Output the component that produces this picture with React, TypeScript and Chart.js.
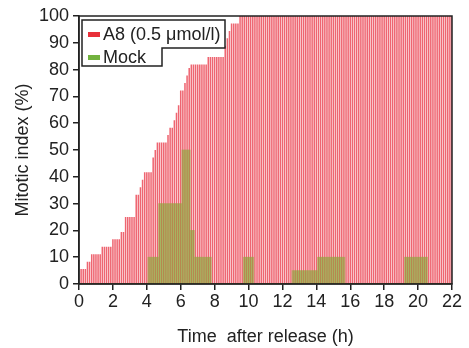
import React, { useEffect, useRef } from "react";
import { Chart, registerables } from "chart.js";

Chart.register(...registerables);

// Sampling interval of the time-lapse frames (hours)
const FRAME_H = 0.125;

// A8 (0.5 µmol/l) mitotic index (%), one row per hour, frames 1..176
const A8_VALUES = [
  5.6, 5.6, 5.6, 8.3, 8.3, 11.1, 11.1, 11.1,
  11.1, 11.1, 13.9, 13.9, 13.9, 13.9, 13.9, 16.7,
  16.7, 16.7, 16.7, 19.4, 19.4, 25, 25, 25,
  25, 25, 33.3, 33.3, 36.1, 38.9, 41.7, 41.7,
  41.7, 41.7, 47.2, 50, 52.8, 52.8, 52.8, 52.8,
  52.8, 55.6, 58.3, 58.3, 61.1, 63.9, 66.7, 72.2,
  72.2, 75, 77.8, 80.6, 81.9, 81.9, 81.9, 81.9,
  81.9, 81.9, 81.9, 81.9, 84.7, 84.7, 84.7, 84.7,
  84.7, 84.7, 84.7, 84.7, 88.9, 91.7, 94.4, 97.2,
  97.2, 97.2, 97.2, 100, 100, 100, 100, 100,
  100, 100, 100, 100, 100, 100, 100, 100,
  100, 100, 100, 100, 100, 100, 100, 100,
  100, 100, 100, 100, 100, 100, 100, 100,
  100, 100, 100, 100, 100, 100, 100, 100,
  100, 100, 100, 100, 100, 100, 100, 100,
  100, 100, 100, 100, 100, 100, 100, 100,
  100, 100, 100, 100, 100, 100, 100, 100,
  100, 100, 100, 100, 100, 100, 100, 100,
  100, 100, 100, 100, 100, 100, 100, 100,
  100, 100, 100, 100, 100, 100, 100, 100,
  100, 100, 100, 100, 100, 100, 100, 100,
  100, 100, 100, 100, 100, 100, 100, 100,
];

// Mock mitotic index (%), same frames
const MOCK_VALUES = [
  0, 0, 0, 0, 0, 0, 0, 0,
  0, 0, 0, 0, 0, 0, 0, 0,
  0, 0, 0, 0, 0, 0, 0, 0,
  0, 0, 0, 0, 0, 0, 0, 0,
  10, 10, 10, 10, 10, 30, 30, 30,
  30, 30, 30, 30, 30, 30, 30, 30,
  50, 50, 50, 50, 20, 20, 10, 10,
  10, 10, 10, 10, 10, 10, 0, 0,
  0, 0, 0, 0, 0, 0, 0, 0,
  0, 0, 0, 0, 0, 10, 10, 10,
  10, 10, 0, 0, 0, 0, 0, 0,
  0, 0, 0, 0, 0, 0, 0, 0,
  0, 0, 0, 0, 5, 5, 5, 5,
  5, 5, 5, 5, 5, 5, 5, 5,
  10, 10, 10, 10, 10, 10, 10, 10,
  10, 10, 10, 10, 10, 0, 0, 0,
  0, 0, 0, 0, 0, 0, 0, 0,
  0, 0, 0, 0, 0, 0, 0, 0,
  0, 0, 0, 0, 0, 0, 0, 0,
  0, 10, 10, 10, 10, 10, 10, 10,
  10, 10, 10, 10, 0, 0, 0, 0,
  0, 0, 0, 0, 0, 0, 0, 0,
];

const SERIES_LABELS = ["A8 (0.5 \u03bcmol/l)", "Mock"];
const X_TITLE = "Time  after release (h)";
const Y_TITLE = "Mitotic index (%)";

const FONT = "'Liberation Sans', Arial, sans-serif";
const INK = "#222222";
const RED = "rgba(232, 50, 66, 0.75)";
const GREEN = "rgba(125, 172, 45, 0.5)";

const toPoints = (vals: number[]) =>
  vals.map((v, i) => ({ x: (i + 1) * FRAME_H, y: v }));

const framePlugin = {
  id: "frameAndLegend",
  afterDatasetsDraw(chart: any) {
    const { ctx, chartArea: a } = chart;
    ctx.save();
    ctx.strokeStyle = INK;
    ctx.lineWidth = 1.5;
    ctx.strokeRect(a.left, a.top, a.right - a.left, a.bottom - a.top);

    // L-shaped legend box
    const L = a.left + 3;
    const T = a.top + 4;
    const R1 = L + 143;
    const R2 = L + 80;
    const M = T + 28;
    const B = T + 46;
    ctx.beginPath();
    ctx.moveTo(L, T);
    ctx.lineTo(R1, T);
    ctx.lineTo(R1, M);
    ctx.lineTo(R2, M);
    ctx.lineTo(R2, B);
    ctx.lineTo(L, B);
    ctx.closePath();
    ctx.fillStyle = "#ffffff";
    ctx.fill();
    ctx.lineWidth = 1.5;
    ctx.stroke();

    ctx.fillStyle = "#e8303a";
    ctx.fillRect(L + 6, T + 12, 12, 5);
    ctx.fillStyle = "#72b23e";
    ctx.fillRect(L + 6, T + 35, 12, 5);

    ctx.fillStyle = INK;
    ctx.font = `18px ${FONT}`;
    ctx.textBaseline = "middle";
    ctx.textAlign = "left";
    ctx.fillText(SERIES_LABELS[0], L + 21, T + 15);
    ctx.fillText(SERIES_LABELS[1], L + 21, T + 38);
    ctx.restore();
  },
};

export default function App() {
  const ref = useRef<HTMLCanvasElement | null>(null);

  useEffect(() => {
    if (!ref.current) return;
    const chart = new Chart(ref.current, {
      type: "bar",
      data: {
        datasets: [
          {
            label: SERIES_LABELS[0],
            data: toPoints(A8_VALUES),
            backgroundColor: RED,
            grouped: false,
            order: 1,
            barPercentage: 0.72,
            categoryPercentage: 1,
          } as any,
          {
            label: SERIES_LABELS[1],
            data: toPoints(MOCK_VALUES),
            backgroundColor: GREEN,
            grouped: false,
            order: 0,
            barPercentage: 1,
            categoryPercentage: 1,
          } as any,
        ],
      },
      options: {
        responsive: false,
        animation: false,
        layout: { padding: { top: 16, right: 17, left: 0, bottom: 0 } },
        plugins: { legend: { display: false }, tooltip: { enabled: false } },
        scales: {
          x: {
            type: "linear",
            min: 0,
            max: 22,
            offset: false,
            grid: {
              display: true,
              drawOnChartArea: false,
              drawTicks: true,
              tickLength: 6,
              color: INK,
              lineWidth: 1.5,
              offset: false,
            },
            border: { display: true, color: INK, width: 1.5 },
            ticks: {
              stepSize: 2,
              color: INK,
              font: { size: 18, family: FONT },
              padding: 1,
              maxRotation: 0,
              autoSkip: false,
            },
            title: {
              display: true,
              text: X_TITLE,
              color: INK,
              font: { size: 18, family: FONT },
              padding: { top: 0, bottom: 0 },
            },
            afterFit: (s: any) => {
              s.height = 64;
            },
          } as any,
          y: {
            min: 0,
            max: 100,
            grid: {
              display: true,
              drawOnChartArea: false,
              drawTicks: true,
              tickLength: 6,
              color: INK,
              lineWidth: 1.5,
            },
            border: { display: true, color: INK, width: 1.5 },
            ticks: {
              stepSize: 10,
              color: INK,
              font: { size: 18, family: FONT },
              padding: 4,
            },
            title: {
              display: true,
              text: Y_TITLE,
              color: INK,
              font: { size: 18, family: FONT },
              padding: { top: 12, bottom: 0 },
            },
            afterFit: (s: any) => {
              s.width = 79;
            },
          } as any,
        },
      },
      plugins: [framePlugin],
    });
    return () => chart.destroy();
  }, []);

  return (
    <div style={{ position: "absolute", left: 0, top: 0, width: 469, height: 348, background: "#fff" }}>
      <canvas ref={ref} width={469} height={348} style={{ display: "block", width: 469, height: 348 }} />
    </div>
  );
}
